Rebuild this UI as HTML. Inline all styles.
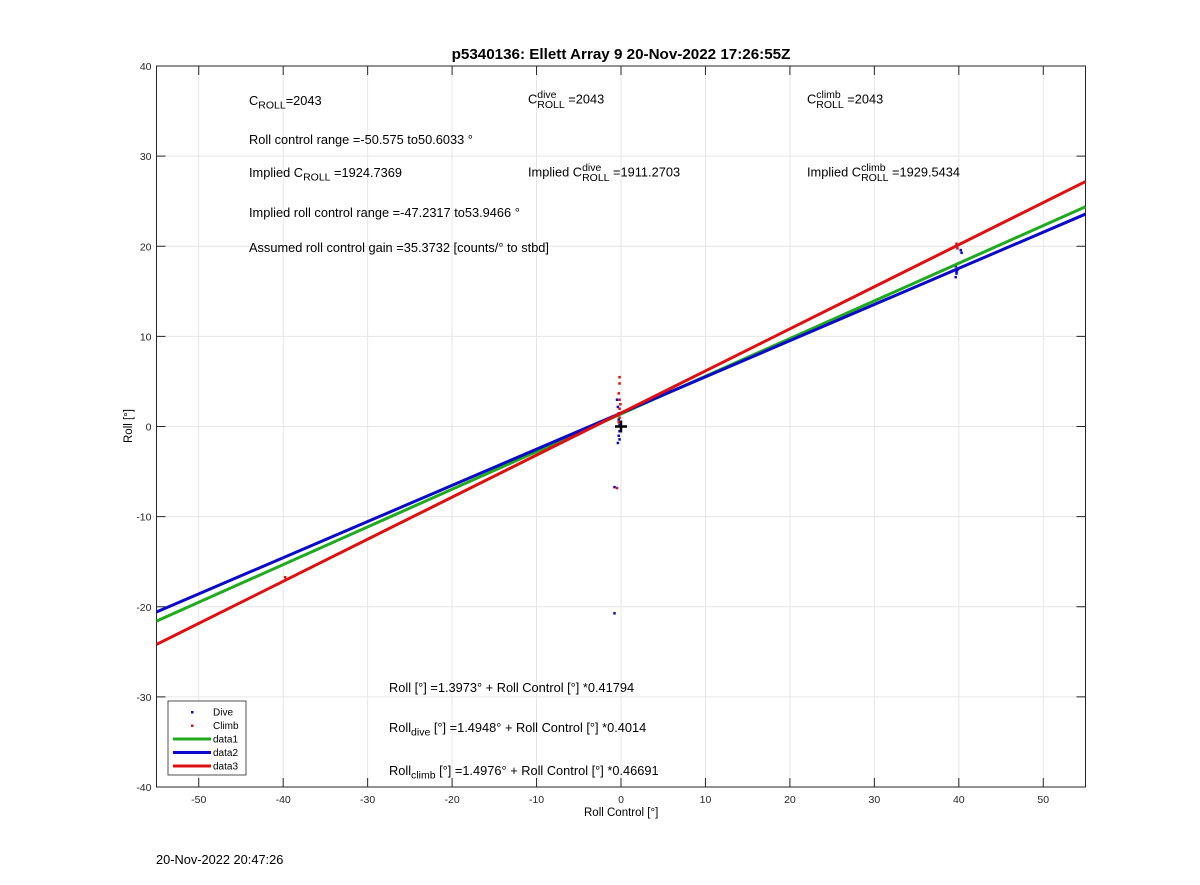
<!DOCTYPE html>
<html><head><meta charset="utf-8"><style>
body{margin:0;background:#fff;font-family:"Liberation Sans",sans-serif;}
#wrap{position:relative;width:1200px;height:885px;overflow:hidden;}
.t{position:absolute;font-size:12.8px;color:#000;white-space:nowrap;}
.t sub,.t sup{font-size:10.5px;}
.ss{display:inline-block;vertical-align:middle;line-height:10px;font-size:10.5px;text-align:left;}
</style></head><body>
<div id="wrap">
<svg id="chart" width="1200" height="885" style="position:absolute;left:0;top:0"></svg>
<div class="t" style="left:0;width:1242px;top:46px;text-align:center;font-weight:bold;font-size:15.2px">p5340136: Ellett Array 9 20-Nov-2022 17:26:55Z</div>
<div class="t" style="left:249px;top:93px">C<sub>ROLL</sub>=2043</div>
<div class="t" style="left:528px;top:90px">C<span class="ss">dive<br>ROLL</span> =2043</div>
<div class="t" style="left:807px;top:90px">C<span class="ss">climb<br>ROLL</span> =2043</div>
<div class="t" style="left:249px;top:132px">Roll control range =-50.575 to50.6033 °</div>
<div class="t" style="left:249px;top:165px">Implied C<sub>ROLL</sub> =1924.7369</div>
<div class="t" style="left:528px;top:163px">Implied C<span class="ss">dive<br>ROLL</span> =1911.2703</div>
<div class="t" style="left:807px;top:163px">Implied C<span class="ss">climb<br>ROLL</span> =1929.5434</div>
<div class="t" style="left:249px;top:205px">Implied roll control range =-47.2317 to53.9466 °</div>
<div class="t" style="left:249px;top:240px">Assumed roll control gain =35.3732 [counts/° to stbd]</div>
<div class="t" style="left:389px;top:680px">Roll [°] =1.3973° + Roll Control [°] *0.41794</div>
<div class="t" style="left:389px;top:720px">Roll<sub>dive</sub> [°] =1.4948° + Roll Control [°] *0.4014</div>
<div class="t" style="left:389px;top:763px">Roll<sub>climb</sub> [°] =1.4976° + Roll Control [°] *0.46691</div>
<div class="t" style="left:584px;top:807px;font-size:11.5px">Roll Control [°]</div>
<div class="t" style="left:112px;top:426px;font-size:11.5px;transform:translate(0,-50%) rotate(-90deg);transform-origin:center">Roll [°]</div>
<div class="t" style="left:156px;top:852px">20-Nov-2022 20:47:26</div>
</div>
<script>
const xTicks=[-50,-40,-30,-20,-10,0,10,20,30,40,50];
const yTicks=[-40,-30,-20,-10,0,10,20,30,40];
const fitIntercepts=[1.3973,1.4948,1.4976];
const fitSlopes=[0.41794,0.4014,0.46691];
const fitColors=['#1faa1f','#0a0ac8','#dd1111'];
const diveX=[-0.5,-0.4,-0.3,-0.3,-0.2,-0.2,-0.3,-0.2,-0.4,-0.8,-0.8,39.6,39.7,39.8,39.6,39.7,40.3,40.2];
const diveY=[3,2.2,1.5,0.8,0.2,-0.5,-1,-1.4,-1.8,-6.7,-20.7,16.6,17,17.4,17.8,17.2,19.3,19.6];
const climbX=[-0.2,-0.2,-0.3,-0.2,-0.1,-0.2,-0.3,-0.2,-0.3,-0.5,39.7,39.8,-39.8];
const climbY=[5.5,4.8,3.7,3,2.5,2,1.5,1,0.5,-6.8,20.3,19.8,-16.7];
const X0=156.5,X1=1085.5,Y0=66,Y1=787,xmin=-55,xmax=55,ymin=-40,ymax=40;
const sx=v=>X0+(v-xmin)/(xmax-xmin)*(X1-X0);
const sy=v=>Y1-(v-ymin)/(ymax-ymin)*(Y1-Y0);
const svg=document.getElementById('chart');const NS='http://www.w3.org/2000/svg';
function mk(t,a){const e=document.createElementNS(NS,t);for(const k in a)e.setAttribute(k,a[k]);svg.appendChild(e);return e;}
const bg=mk('rect',{x:X0,y:Y0,width:X1-X0,height:Y1-Y0,fill:'#fff'});


xTicks.forEach(v=>{const g=mk('line',{x1:sx(v),x2:sx(v),y1:Y0,y2:Y1,stroke:'#e6e6e6'});


mk('line',{x1:sx(v),x2:sx(v),y1:Y1,y2:Y1-9,stroke:'#262626'});mk('line',{x1:sx(v),x2:sx(v),y1:Y0,y2:Y0+9,stroke:'#262626'});
const t=mk('text',{x:sx(v),y:Y1+16,'text-anchor':'middle','font-size':10.5,'font-family':'Liberation Sans',fill:'#262626'});t.textContent=v;

});
yTicks.forEach(v=>{const g=mk('line',{x1:X0,x2:X1,y1:sy(v),y2:sy(v),stroke:'#e6e6e6'});


mk('line',{x1:X0,x2:X0+9,y1:sy(v),y2:sy(v),stroke:'#262626'});mk('line',{x1:X1,x2:X1-9,y1:sy(v),y2:sy(v),stroke:'#262626'});
const t=mk('text',{x:X0-5,y:sy(v)+4,'text-anchor':'end','font-size':10.5,'font-family':'Liberation Sans',fill:'#262626'});t.textContent=v;

});
const fr=mk('rect',{x:X0,y:Y0,width:X1-X0,height:Y1-Y0,fill:'none',stroke:'#262626'});


diveX.forEach((v,i)=>{const c=mk('rect',{x:sx(v)-1,y:sy(diveY[i])-1,width:2.5,height:2.5,fill:'#0a0ac8'});

});
climbX.forEach((v,i)=>{const c=mk('rect',{x:sx(v)-1,y:sy(climbY[i])-1,width:2.5,height:2.5,fill:'#dd1111'});

});
fitSlopes.forEach((m,i)=>{const b=fitIntercepts[i];const l=mk('line',{x1:sx(xmin),y1:sy(b+m*xmin),x2:sx(xmax),y2:sy(b+m*xmax),stroke:fitColors[i],'stroke-width':3});

});
const cr1=mk('line',{x1:sx(0)-6,x2:sx(0)+6,y1:sy(0),y2:sy(0),stroke:'#000','stroke-width':2.5});


mk('line',{x1:sx(0),x2:sx(0),y1:sy(0)-6,y2:sy(0)+6,stroke:'#000','stroke-width':2.5});
const lg=mk('rect',{x:168,y:701,width:78,height:74,fill:'#fff',stroke:'#262626','stroke-width':0.8});


const leg=[['Dive','#0a0ac8',0],['Climb','#dd1111',0],['data1','#1faa1f',1],['data2','#0a0ac8',1],['data3','#dd1111',1]];
leg.forEach((e,i)=>{const y=712+i*13.5;
if(e[2])mk('line',{x1:173,x2:211,y1:y,y2:y,stroke:e[1],'stroke-width':3});else mk('rect',{x:191,y:y-1,width:2.5,height:2.5,fill:e[1]});
const t=mk('text',{x:213,y:y+3.5,'font-size':10,'font-family':'Liberation Sans',fill:'#000'});t.textContent=e[0];

});
</script>
</body></html>
